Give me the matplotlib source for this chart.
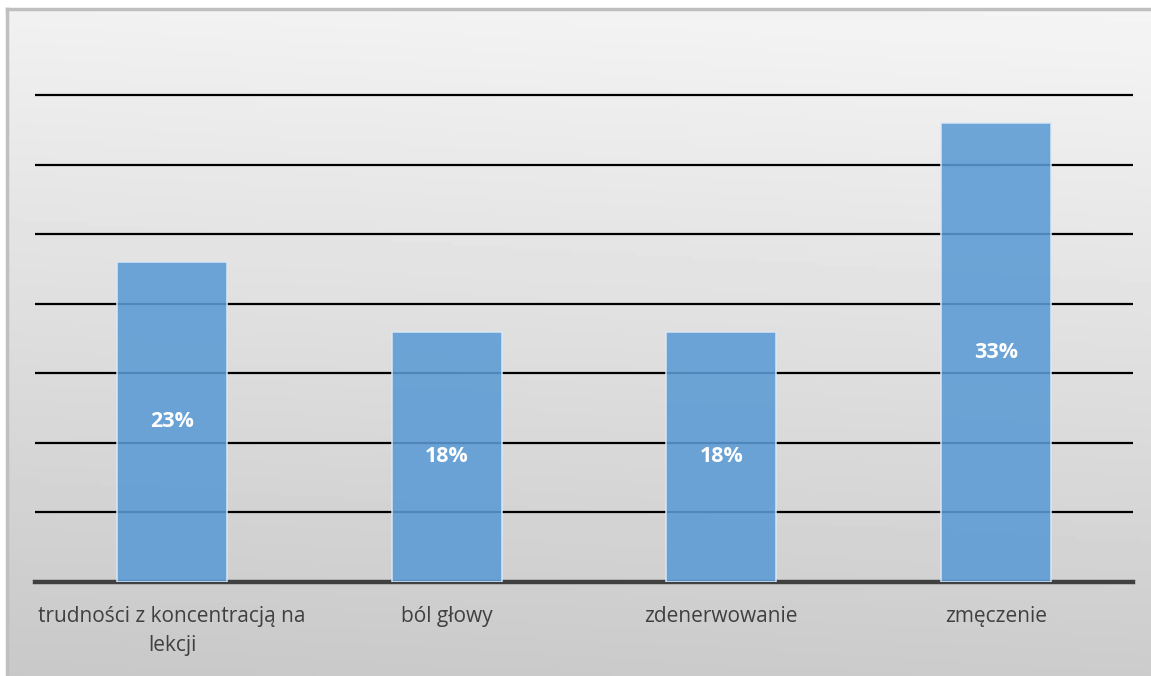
import numpy as np
import matplotlib.pyplot as plt

categories = ['trudności z koncentracją na\nlekcji', 'ból głowy', 'zdenerwowanie', 'zmęczenie']
values = [23, 18, 18, 33]
labels = ['23%', '18%', '18%', '33%']

W, H = 1151, 676
fig = plt.figure(figsize=(W / 100, H / 100), dpi=100)
fig.patch.set_facecolor('white')

# grey gradient panel behind the chart
bg = fig.add_axes([7 / W, 0, 1 - 7 / W, 667 / H], zorder=0)
yy, xx = np.mgrid[0:1:200j, 0:1:200j]
shade = 0.945 - 0.16 * yy + 0.015 * xx
bg.imshow(shade, cmap='gray', vmin=0, vmax=1, aspect='auto', extent=[0, 1, 0, 1], origin='upper')
bg.set_xticks([])
bg.set_yticks([])
for side in ['right', 'bottom']:
    bg.spines[side].set_visible(False)
for side in ['left', 'top']:
    bg.spines[side].set_color('#bfbfbf')
    bg.spines[side].set_linewidth(2.5)

ax = fig.add_axes([35 / W, 94 / H, 1098 / W, 501 / H], zorder=1)
ax.patch.set_visible(False)
x = np.arange(len(categories))
bars = ax.bar(x, values, width=0.4, color='#5b9bd5', alpha=0.88,
              edgecolor='#dce9f5', linewidth=1.2, zorder=3)
for b, t in zip(bars, labels):
    ax.text(b.get_x() + b.get_width() / 2, b.get_height() / 2, t,
            ha='center', va='center', color='white', fontsize=15.5,
            fontweight='bold', family='Open Sans', zorder=4)

ax.set_xlim(-0.5, len(categories) - 0.5)
ax.set_ylim(0, 36)
for v in range(5, 40, 5):
    ax.axhline(v, color='black', linewidth=1.6, zorder=2)
ax.axhline(0, color='#404040', linewidth=3.2, zorder=2, clip_on=False)

ax.set_xticks(x)
ax.set_xticklabels(categories, fontsize=15, color='#404040', family='Open Sans',
                   linespacing=1.5)
ax.tick_params(axis='x', length=0, pad=17)
ax.set_yticks([])
for s in ax.spines.values():
    s.set_visible(False)

plt.savefig('out.png', dpi=100)
